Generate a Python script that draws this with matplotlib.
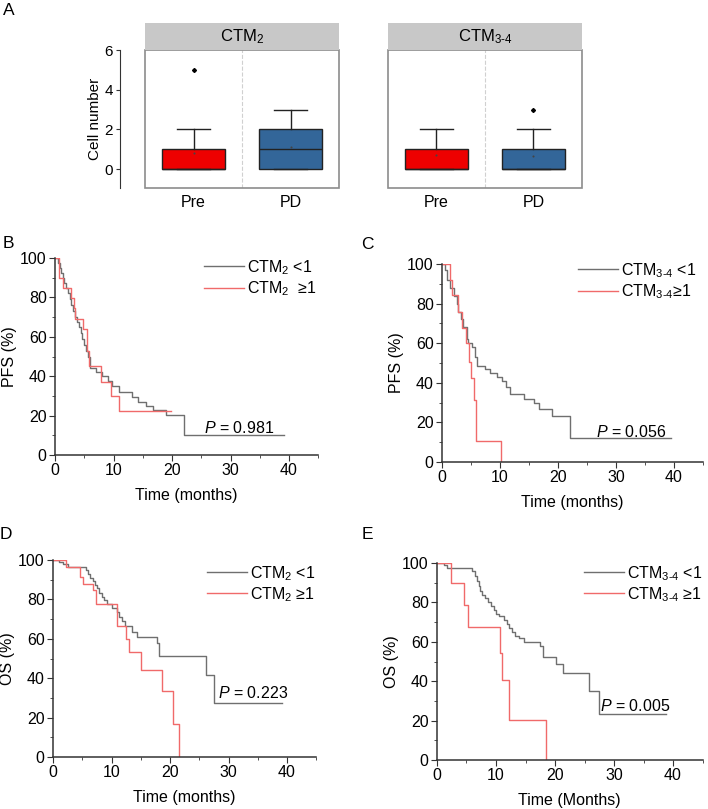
import numpy as np
import matplotlib
matplotlib.use('Agg')
import matplotlib.pyplot as plt
from matplotlib.patches import Rectangle
from matplotlib.ticker import MultipleLocator

plt.rcParams['font.family'] = ['Liberation Sans', 'DejaVu Sans']
plt.rcParams['mathtext.fontset'] = 'custom'
plt.rcParams['mathtext.rm'] = 'Liberation Sans'
plt.rcParams['mathtext.it'] = 'Liberation Sans:italic'
plt.rcParams['mathtext.bf'] = 'Liberation Sans:bold'

# ---- panel A : box plots ----
groups = ['Pre', 'PD']
ctm2_q1 = [0, 0]
ctm2_med = [0, 1]
ctm2_q3 = [1, 2]
ctm2_lo = [0, 0]
ctm2_hi = [2, 3]
ctm2_mean = [0.8, 1.1]
ctm2_out = [[5], []]

ctm34_q1 = [0, 0]
ctm34_med = [0, 0]
ctm34_q3 = [1, 1]
ctm34_lo = [0, 0]
ctm34_hi = [2, 2]
ctm34_mean = [0.7, 0.65]
ctm34_out = [[], [3]]

# ---- panel B : PFS by CTM2 ----
pfs2_lo_t = [0, 0.5, 0.8, 1.0, 1.3, 1.6, 1.9, 2.2, 2.5, 2.8, 3.1, 3.4, 3.8, 4.1, 4.4, 4.7,
             5.0, 5.3, 5.6, 6.0, 7.0, 8.0, 9.0, 9.8, 11.0, 13.2, 14.2, 15.5, 16.8, 19.0, 22.0, 39.1]
pfs2_lo_s = [100, 97.5, 95, 92.5, 90, 87.5, 85, 82, 79, 76, 73, 70, 67.5, 65, 62, 59,
             56, 53, 50, 44, 42, 40, 37.5, 35, 32, 29.5, 27, 25, 23, 20.5, 10.2, 10.2]
pfs2_hi_t = [0, 0.7, 1.4, 2.8, 3.2, 3.5, 4.8, 5.5, 5.8, 7.9, 9.5, 10.9, 19.9]
pfs2_hi_s = [100, 89.8, 85, 79.7, 74.6, 69, 64, 53, 45, 37, 29.7, 22.5, 22.5]

# ---- panel C : PFS by CTM3-4 ----
pfs34_lo_t = [0, 0.5, 0.8, 1.4, 2.0, 2.5, 2.8, 3.2, 3.7, 4.25, 4.5, 5.1, 5.7, 6.1, 7.4, 8.3,
              9.4, 10.3, 11.1, 11.7, 14.2, 15.9, 16.8, 19.0, 22.0, 39.4]
pfs34_lo_s = [100, 97, 92, 88, 84, 80, 76, 72, 68, 62, 60, 58, 53, 48.5, 47, 45,
              43, 41, 38, 34.5, 32, 30, 26.6, 23.3, 12.2, 12.2]
pfs34_hi_t = [0, 1.4, 1.8, 2.7, 3.5, 4.2, 4.7, 5.0, 5.5, 5.8, 10.1]
pfs34_hi_s = [100, 92, 84.5, 76, 67.6, 60, 50.5, 42.3, 31.3, 10.5, 0]

# ---- panel D : OS by CTM2 ----
os2_lo_t = [0, 1.1, 1.7, 2.6, 5.7, 6.0, 6.4, 6.8, 7.2, 7.6, 7.9, 8.3, 8.7, 9.2, 10.0, 10.9,
            11.3, 11.8, 12.3, 13.5, 14.3, 17.8, 18.1, 26.1, 27.6, 39.1]
os2_lo_s = [100, 99, 98, 96.6, 95, 93, 90.7, 89.3, 87.3, 85.6, 83.5, 81.4, 79.7, 77.6, 75.4, 73.4,
            71.3, 69.2, 66.4, 63.6, 60.7, 58, 51.2, 41.5, 27.6, 27.6]
os2_hi_t = [0, 2.2, 4.6, 5.1, 6.9, 7.3, 10.9, 12.5, 13.0, 15.0, 18.6, 20.5, 21.5]
os2_hi_s = [100, 96.3, 91.5, 87.6, 84.7, 77.5, 66.4, 60, 53.4, 44, 33.4, 16.8, 0]

# ---- panel E : OS by CTM3-4 ----
os34_lo_t = [0, 1.2, 1.7, 6.0, 6.4, 6.8, 7.05, 7.3, 7.7, 8.1, 8.6, 9.1, 9.6, 10.0, 10.55, 11.4,
             11.85, 12.2, 12.7, 13.2, 13.9, 14.8, 17.4, 17.9, 20.1, 21.3, 25.8, 27.4, 38.8]
os34_lo_s = [100, 99, 97.5, 96, 93.5, 91, 88.5, 85.6, 84, 82, 80, 78, 76, 74, 73, 71,
             69, 67, 65, 63, 62, 60, 58, 52.5, 48.5, 44, 35, 23.5, 23.5]
os34_hi_t = [0, 2.4, 4.5, 5.2, 10.7, 11.0, 12.2, 18.45]
os34_hi_s = [100, 90, 78.8, 67.3, 54.2, 40.5, 20.3, 0]

W, H = 708, 809
GRAY = '#6f6f6f'
RED = '#f06a6a'
AXC = '#333333'

fig = plt.figure(figsize=(W / 100, H / 100), dpi=100)


def px_axes(x0, y0, x1, y1):
    return fig.add_axes([x0 / W, 1 - y1 / H, (x1 - x0) / W, (y1 - y0) / H])


def box_panel(ax, title, q1, med, q3, lo, hi, mean, out, show_y):
    stats = []
    for i in range(2):
        stats.append(dict(q1=q1[i], med=med[i], q3=q3[i], whislo=lo[i], whishi=hi[i],
                          fliers=out[i], mean=mean[i], label=groups[i]))
    bp = ax.bxp(stats, positions=[0, 1], widths=0.64, capwidths=0.33, patch_artist=True,
                showmeans=True,
                boxprops=dict(edgecolor='#222222', linewidth=1),
                whiskerprops=dict(color='#222222', linewidth=1),
                capprops=dict(color='#222222', linewidth=1),
                medianprops=dict(color='#222222', linewidth=1),
                meanprops=dict(marker='o', markersize=1.5, markerfacecolor='#444444',
                               markeredgecolor='none'),
                flierprops=dict(marker='D', markersize=2, markerfacecolor='black',
                                markeredgecolor='black'))
    for patch, c in zip(bp['boxes'], ['#ee0000', '#336699']):
        patch.set_facecolor(c)
    ax.set_xlim(-0.5, 1.5)
    ax.set_ylim(-0.95, 6)
    ax.axvline(0.5, color='#d0d0d0', ls='--', lw=0.8, zorder=0)
    for s in ['top', 'right', 'bottom']:
        ax.spines[s].set_visible(False)
    ax.add_patch(Rectangle((0, 0), 1, 1, transform=ax.transAxes, fill=False,
                           ec='#8c8c8c', lw=1.2, clip_on=False))
    ax.add_patch(Rectangle((0, 1), 1, 27 / 138, transform=ax.transAxes, fc='#c8c8c8',
                           ec='none', clip_on=False))
    ax.text(0.5, 1 + 13.5 / 138, title, transform=ax.transAxes, ha='center', va='center',
            fontsize=12)
    ax.tick_params(axis='x', length=0, labelsize=11.5, pad=5)
    if show_y:
        ax.spines['left'].set_position(('outward', 18))
        ax.spines['left'].set_color(AXC)
        ax.set_yticks([0, 2, 4, 6])
        ax.tick_params(axis='y', direction='out', length=3, labelsize=11, pad=2, color=AXC)
        ax.set_ylabel('Cell number', fontsize=11, labelpad=2)
    else:
        ax.spines['left'].set_visible(False)
        ax.set_yticks([])


def km_panel(ax, t_lo, s_lo, t_hi, s_hi, labels, pval, pxy, ylab, xlab, leg_anchor):
    ax.step(t_lo, s_lo, where='post', color=GRAY, lw=1, label=labels[0])
    ax.step(t_hi, s_hi, where='post', color=RED, lw=1, label=labels[1])
    ax.set_xlim(0, 45)
    ax.set_ylim(0, 100)
    ax.set_xticks([0, 10, 20, 30, 40])
    ax.set_yticks([0, 20, 40, 60, 80, 100])
    ax.xaxis.set_minor_locator(MultipleLocator(5))
    ax.yaxis.set_minor_locator(MultipleLocator(10))
    for s in ['top', 'right']:
        ax.spines[s].set_visible(False)
    for s in ['left', 'bottom']:
        ax.spines[s].set_color(AXC)
        ax.spines[s].set_linewidth(1.1)
    ax.tick_params(which='major', direction='out', length=4, labelsize=11.5, pad=2, color=AXC)
    ax.tick_params(which='minor', direction='out', length=2.5, color=AXC)
    ax.set_ylabel(ylab, fontsize=11.5, labelpad=2)
    ax.set_xlabel(xlab, fontsize=11.5, labelpad=7)
    ax.text(pxy[0], pxy[1], r'$P$ = ' + pval, fontsize=11.5, ha='left', va='baseline')
    ax.legend(loc='upper left', bbox_to_anchor=leg_anchor, frameon=False, fontsize=11.5,
              handlelength=2.5, handletextpad=0.2, labelspacing=0.15, borderpad=0,
              borderaxespad=0)


axA1 = px_axes(145, 50, 339, 188)
box_panel(axA1, r'CTM$_2$', ctm2_q1, ctm2_med, ctm2_q3, ctm2_lo, ctm2_hi, ctm2_mean,
          ctm2_out, True)
axA2 = px_axes(388, 50, 582, 188)
box_panel(axA2, r'CTM$_{\mathit{3}\text{-}\mathit{4}}$', ctm34_q1, ctm34_med, ctm34_q3,
          ctm34_lo, ctm34_hi, ctm34_mean, ctm34_out, False)

sub34 = r'CTM$_{\mathit{3}\text{-}\mathit{4}}$'

axB = px_axes(55, 258, 318.25, 455)
km_panel(axB, pfs2_lo_t, pfs2_lo_s, pfs2_hi_t, pfs2_hi_s,
         [r'CTM$_2$ <1', r'CTM$_2$  ≥1'], '0.981', (25.5, 11.2),
         'PFS (%)', 'Time (months)', (0.567, 1.0))

axC = px_axes(442, 264, 703, 462)
km_panel(axC, pfs34_lo_t, pfs34_lo_s, pfs34_hi_t, pfs34_hi_s,
         [sub34 + ' <1', sub34 + '≥1'], '0.056', (26.5, 12.6),
         'PFS (%)', 'Time (months)', (0.521, 1.015))

axD = px_axes(53, 560, 316.25, 757)
km_panel(axD, os2_lo_t, os2_lo_s, os2_hi_t, os2_hi_s,
         [r'CTM$_2$ <1', r'CTM$_2$ ≥1'], '0.223', (28.2, 30),
         'OS (%)', 'Time (months)', (0.585, 0.98))

axE = px_axes(437, 563, 702.5, 760)
km_panel(axE, os34_lo_t, os34_lo_s, os34_hi_t, os34_hi_s,
         [sub34 + ' <1', sub34 + ' ≥1'], '0.005', (27.6, 24.9),
         'OS (%)', 'Time (Months)', (0.555, 0.995))

for lab, x, y in [('A', 3, 3), ('B', 3, 236), ('C', 361, 237), ('D', 0, 527), ('E', 362, 527)]:
    fig.text(x / W, 1 - y / H, lab, fontsize=12.5, ha='left', va='top')

fig.savefig('out.png', dpi=100)
